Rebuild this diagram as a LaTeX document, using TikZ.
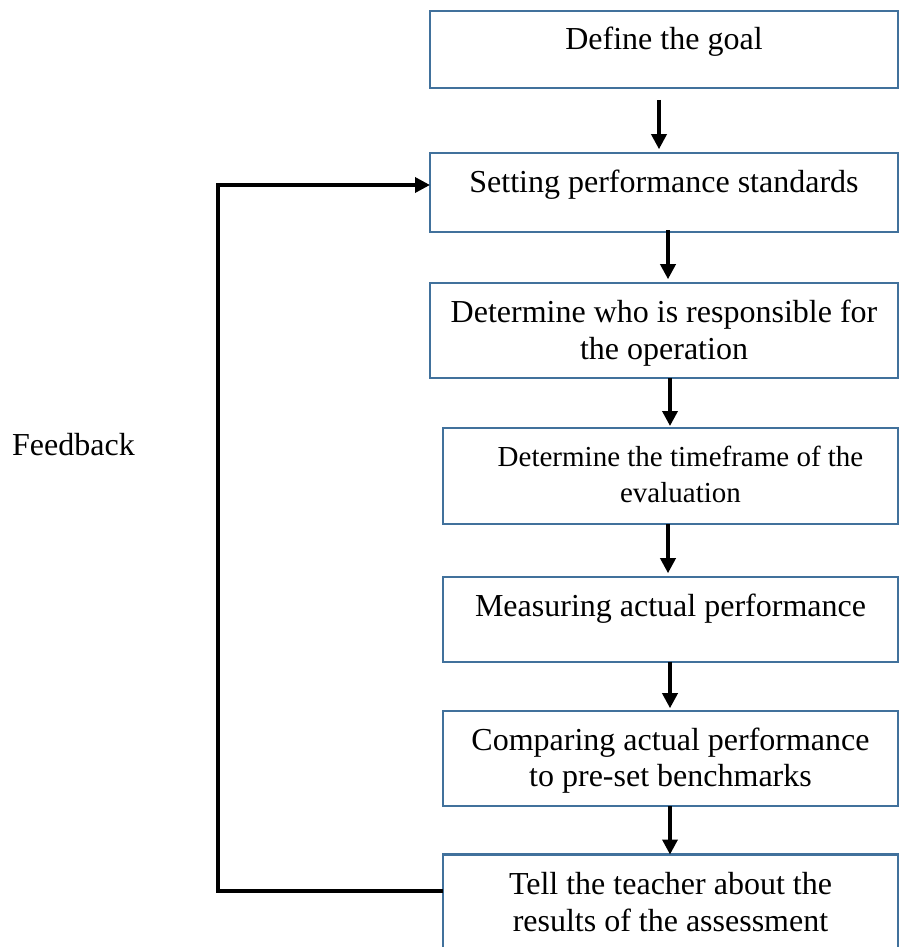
\documentclass[tikz,border=0pt]{standalone}
\usepackage{fontspec}
\setmainfont{Liberation Serif}
\usetikzlibrary{arrows.meta}
\definecolor{boxblue}{RGB}{65,113,156}
\newcommand{\bxt}[2][@{}c@{}]{\begin{tabular}[t]{#1}#2\end{tabular}}
\begin{document}
\begin{tikzpicture}[x=1pt,y=-1pt,
  flowbox/.style={draw=boxblue, line width=2.2pt, inner xsep=0pt, inner ysep=0pt,
    outer sep=0pt, anchor=north, fill=white, font=\fontsize{32}{36.8}\selectfont},
  flowarrow/.style={-{Triangle[length=15pt,width=15pt]}, line width=3.5pt, draw=black},
  fbtext/.style={font=\fontsize{32}{36.8}\selectfont, anchor=base west, inner sep=0pt}
 ]
\useasboundingbox (0,0) rectangle (899,947);
\clip (0,0) rectangle (899,947);

\node[flowbox, minimum width=468pt, text height=39pt, text depth=38pt] (b1) at (664,11)
  {\bxt{Define the goal}};
\node[flowbox, minimum width=468pt, text height=39.8pt, text depth=39.2pt] (b2) at (664,152.7)
  {\bxt{Setting performance standards}};
\node[flowbox, minimum width=468pt, text height=40pt, text depth=55pt] (b3) at (664,282.7)
  {\bxt{Determine who is responsible for\\the operation}};
\node[flowbox, minimum width=455pt, text height=38pt, text depth=58pt,
  font=\fontsize{29}{36.7}\selectfont] (b4) at (670.5,428)
  {\bxt[@{\hspace{20pt}}c@{}]{Determine the timeframe of the\\evaluation}};
\node[flowbox, minimum width=455pt, text height=40pt, text depth=45pt] (b5) at (670.5,576.7)
  {\bxt{Measuring actual performance}};
\node[flowbox, minimum width=455pt, text height=39.3pt, text depth=56pt] (b6) at (670.5,710.7)
  {\bxt{Comparing actual performance\\to pre-set benchmarks}};
\node[flowbox, minimum width=455pt, text height=39.8pt, text depth=120pt] (b7) at (670.5,854.5)
  {\bxt{Tell the teacher about the\\results of the assessment}};

\node[fbtext] (fb) at (12,455) {Feedback};

\draw[flowarrow] ([xshift=-5pt,yshift=-12pt]b1.south) -- ([xshift=-5pt,yshift=3.5pt]b2.north);
\draw[flowarrow] ([xshift=4pt,yshift=1.5pt]b2.south) -- ([xshift=4pt,yshift=3.5pt]b3.north);
\draw[flowarrow] ([xshift=6pt]b3.south) -- ([xshift=-0.5pt,yshift=2pt]b4.north);
\draw[flowarrow] ([xshift=-2.5pt]b4.south) -- ([xshift=-2.5pt,yshift=3.5pt]b5.north);
\draw[flowarrow] ([xshift=-0.5pt]b5.south) -- ([xshift=-0.5pt,yshift=2.5pt]b6.north);
\draw[flowarrow] ([xshift=-0.5pt]b6.south) -- ([xshift=-0.5pt]b7.north);

\draw[flowarrow] ([yshift=-36.5pt]b7.north west) -| ([xshift=-212pt,yshift=7.2pt]b2.west)
  -- ([yshift=7.2pt]b2.west);
\end{tikzpicture}
\end{document}
